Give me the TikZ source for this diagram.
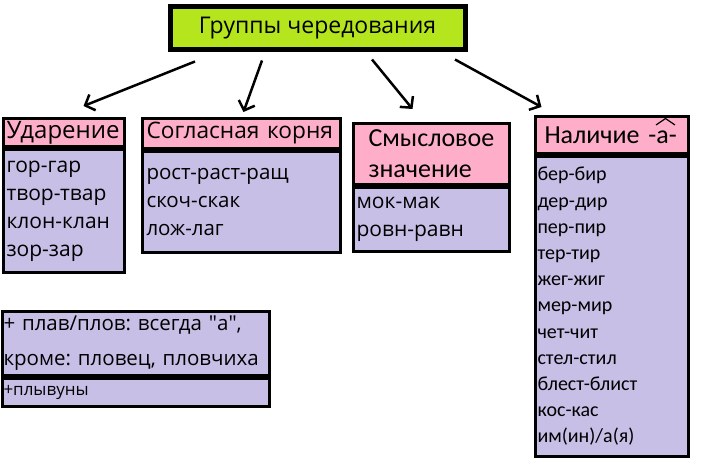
\documentclass[tikz,border=0pt]{standalone}
\usepackage{fontspec}
\setmainfont{Open Sans}
\newfontfamily\clb{Carlito}
\usetikzlibrary{arrows.meta,calc}
\definecolor{limehd}{RGB}{181,230,29}
\definecolor{pinkhd}{RGB}{255,174,201}
\definecolor{lavbody}{RGB}{200,191,231}
\tikzset{
  hdr/.style={draw, line width=3pt, fill=pinkhd, anchor=north west, align=left, inner ysep=0pt},
  lst/.style={draw, line width=3pt, fill=lavbody, anchor=north west, align=left, inner ysep=0pt},
  arr/.style={line width=2.5pt, -{Straight Barb[length=8pt,width=17pt]}}
}
\frenchspacing
\begin{document}
\begin{tikzpicture}[x=1pt, y=-1pt]
  \useasboundingbox (0,0) rectangle (702,460);
  % title
  \node[draw, line width=5pt, fill=limehd, minimum width=295, minimum height=43,
        font=\fontsize{23}{27}\selectfont] (grp) at (317.5,28.5) {Группы чередования};
  % groups
  \node[hdr, text width=115, inner xsep=3, minimum height=28,
        font=\fontsize{24}{28}\selectfont] (udar) at (2,117) {Ударение};
  \node[lst, text width=115, inner xsep=3, minimum height=123,
        font=\fontsize{21}{28}\selectfont] (udarL) at (udar.south west)
        {гор-гар\\твор-твар\\клон-клан\\зор-зар};
  \node[hdr, text width=190, inner xsep=4, minimum height=30,
        font=\fontsize{22.7}{26}\selectfont] (sogl) at (141,117) {Согласная корня};
  \node[lst, text width=190, inner xsep=4, minimum height=101,
        font=\fontsize{20.5}{28}\selectfont] (soglL) at (sogl.south west)
        {рост-раст-ращ\\скоч-скак\\лож-лаг};
  \node[hdr, text width=126, inner xsep=15, minimum height=61,
        font=\clb\fontsize{26}{31}\selectfont] (smysl) at (352,122) {Смысловое\\значение};
  \node[lst, text width=150, inner xsep=3, minimum height=64,
        font=\fontsize{21}{28}\selectfont] (smyslL) at (smysl.south west)
        {мок-мак\\ровн-равн};
  \node[hdr, text width=135, inner xsep=9, minimum height=37,
        font=\clb\fontsize{26}{30}\selectfont] (nalich) at (534,115) {Наличие -а-};
  \node[lst, text width=149, inner xsep=2, minimum height=300,
        font=\clb\fontsize{20}{26.2}\selectfont] (nalichL) at (nalich.south west)
        {бер-бир\\дер-дир\\пер-пир\\тер-тир\\жег-жиг\\мер-мир\\чет-чит\\стел-стил\\блест-блист\\кос-кас\\им(ин)/а(я)};
  \draw[line width=1.2pt] (656,125) -- (665.5,118.5) -- (675,125);
  % plav/plov
  \node[lst, text width=265, inner xsep=1, minimum height=64,
        font=\fontsize{20.5}{35}\selectfont] (plav) at (1,310)
        {+ плав/плов: всегда \textquotedbl а\textquotedbl,\\кроме: пловец, пловчиха};
  \node[lst, text width=265, inner xsep=1, minimum height=28,
        font=\fontsize{17}{20}\selectfont] (plyv) at (plav.south west) {+плывуны};
  % arrows
  \coordinate (s1) at ($(grp.south)+(-122.5,9)$);
  \coordinate (s2) at ($(grp.south)+(-55.5,8)$);
  \coordinate (s3) at ($(grp.south)+(54.5,7)$);
  \coordinate (s4) at ($(grp.south)+(137.5,7)$);
  \coordinate (e1) at ($(udar.north)+(19.5,-11)$);
  \coordinate (e2) at ($(sogl.north)+(2,-5)$);
  \coordinate (e3) at ($(smysl.north)+(-19,-13)$);
  \coordinate (e4) at ($(nalich.north)+(-70.5,-8)$);
  \draw[arr] (s1) -- (e1);
  \draw[arr] (s2) -- (e2);
  \draw[arr] (s3) -- (e3);
  \draw[arr] (s4) -- (e4);
\end{tikzpicture}
\end{document}
